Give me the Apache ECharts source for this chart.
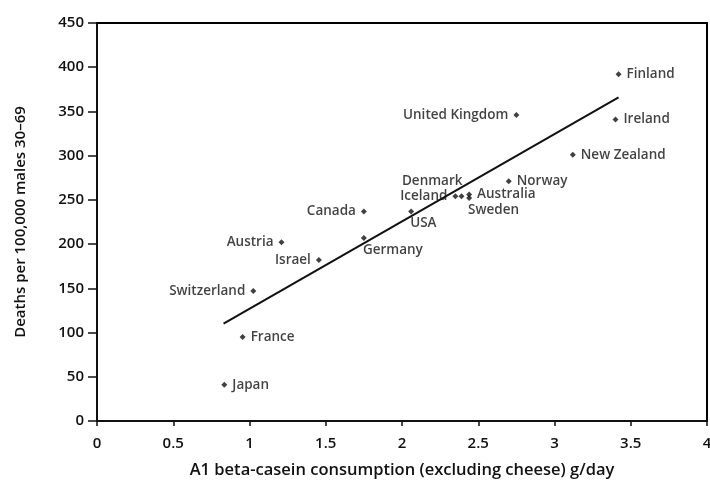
<!DOCTYPE html>
<html>
<head>
<meta charset="utf-8">
<script src="https://cdn.jsdelivr.net/npm/echarts@6/dist/echarts.min.js"></script>
<style>
  html, body { margin: 0; padding: 0; background: #fff; }
  #chart { width: 710px; height: 481px; }
</style>
</head>
<body>
<div id="chart"></div>
<script>
// A1 beta-casein consumption vs coronary deaths, by country
const countries = ['Finland', 'United Kingdom', 'Ireland', 'New Zealand', 'Norway',
  'Denmark', 'Iceland', 'Australia', 'Sweden', 'USA', 'Canada', 'Germany',
  'Austria', 'Israel', 'Switzerland', 'France', 'Japan'];
const consumption = [3.42, 2.75, 3.40, 3.12, 2.70, 2.39, 2.35, 2.44, 2.44, 2.06, 1.75, 1.75,
  1.21, 1.455, 1.025, 0.955, 0.835];
const deaths = [392, 346, 341, 301, 271, 254, 254, 256, 252, 237, 237, 207,
  202, 182, 147, 95, 41];
// where each country's name sits relative to its marker
const labelSide = ['right', 'left', 'right', 'right', 'right',
  'aboveLeft', 'left', 'right', 'belowRight', 'belowRight', 'left', 'belowRight',
  'left', 'left', 'left', 'right', 'right'];
// fitted trend line end points
const trendX = [0.83, 3.42];
const trendY = [110, 366];

const xTicks = ['0', '0.5', '1', '1.5', '2', '2.5', '3', '3.5', '4'];

const FONT = '"Open Sans", "Noto Sans", sans-serif';
const INK = '#111';
const FRAME = '#000';

function labelFor(side) {
  const base = { show: true, fontFamily: FONT, fontSize: 13.5, fontWeight: 600, color: INK, formatter: '{b}' };
  switch (side) {
    case 'left': return Object.assign(base, { position: 'left', distance: 5 });
    case 'right': return Object.assign(base, { position: 'right', distance: 5 });
    case 'aboveLeft': return Object.assign(base, { position: 'left', offset: [4, -15], distance: 0 });
    case 'belowRight': return Object.assign(base, { position: 'right', offset: [-6, 12], distance: 2 });
  }
  return base;
}

const points = countries.map((name, i) => ({
  name: name,
  value: [consumption[i], deaths[i]],
  label: labelFor(labelSide[i])
}));

const chart = echarts.init(document.getElementById('chart'), null, { renderer: 'canvas' });
chart.setOption({
  animation: false,
  backgroundColor: '#fff',
  grid: {
    left: 97, right: 3, top: 23, bottom: 60, outerBoundsMode: 'none', containLabel: false,
    show: true, borderColor: FRAME, borderWidth: 2
  },
  xAxis: [
    {
      type: 'value', min: 0, max: 4, interval: 0.5,
      name: 'A1 beta-casein consumption (excluding cheese) g/day',
      nameLocation: 'middle', nameGap: 41,
      nameTextStyle: { fontFamily: FONT, fontSize: 16.5, fontWeight: 600, color: INK },
      axisLine: { show: true, onZero: false, lineStyle: { color: INK, width: 2 } },
      axisTick: { show: true, inside: false, length: 5, lineStyle: { color: INK, width: 1.5 } },
      axisLabel: {
        fontFamily: FONT, fontSize: 15, fontWeight: 600, color: INK, margin: 15,
        formatter: v => xTicks[Math.round(v * 2)]
      },
      splitLine: { show: false }
    },
    {
      // top edge of the frame
      type: 'value', position: 'top', min: 0, max: 4, gridIndex: 0,
      axisLine: { show: true, onZero: false, lineStyle: { color: FRAME, width: 2 } },
      axisTick: { show: false }, axisLabel: { show: false }, splitLine: { show: false }
    }
  ],
  yAxis: [
    {
      type: 'value', min: 0, max: 450, interval: 50,
      name: 'Deaths per 100,000 males 30\u201369',
      nameLocation: 'middle', nameGap: 69, nameRotate: 90,
      nameTextStyle: { fontFamily: FONT, fontSize: 15, fontWeight: 600, color: INK },
      axisLine: { show: true, onZero: false, lineStyle: { color: INK, width: 2 } },
      axisTick: { show: true, inside: false, length: 9, lineStyle: { color: INK, width: 1.5 } },
      axisLabel: { fontFamily: FONT, fontSize: 15, fontWeight: 600, color: INK, margin: 13 },
      splitLine: { show: false }
    },
    {
      // right edge of the frame
      type: 'value', position: 'right', min: 0, max: 450, gridIndex: 0,
      axisLine: { show: true, onZero: false, lineStyle: { color: FRAME, width: 2 } },
      axisTick: { show: false }, axisLabel: { show: false }, splitLine: { show: false }
    }
  ],
  series: [
    {
      type: 'line',
      data: trendX.map((x, i) => [x, trendY[i]]),
      symbol: 'none',
      lineStyle: { color: INK, width: 2 },
      z: 2
    },
    {
      type: 'scatter',
      data: points,
      symbol: 'diamond',
      symbolSize: 6,
      itemStyle: { color: INK },
      z: 3
    }
  ]
});
</script>
</body>
</html>
